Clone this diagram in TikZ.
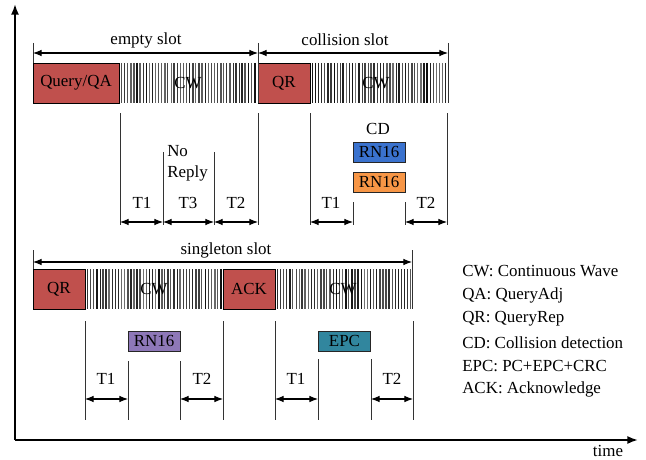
\documentclass[tikz,border=0pt]{standalone}
\usepackage{fontspec}
\setmainfont{Liberation Serif}
\usetikzlibrary{arrows.meta}
\definecolor{qred}{HTML}{C0504D}
\definecolor{qblue}{HTML}{3A72CE}
\definecolor{qorange}{HTML}{F79646}
\definecolor{qpurple}{HTML}{8E78B8}
\definecolor{qteal}{HTML}{31869E}
\newcommand{\cwbars}[4]{%
  \pgfmathsetseed{#4}%
  \pgfmathtruncatemacro{\nbars}{(#2-#1-3)/3.1}%
  \foreach \k in {0,...,\nbars}{%
    \pgfmathsetmacro{\bx}{#1+2.2+\k*3.1+0.5*rnd}%
    \pgfmathsetmacro{\bw}{0.65+0.75*rnd}%
    \pgfmathtruncatemacro{\bg}{55+40*rnd}%
    \draw[line width=\bw pt, draw=black!\bg] (\bx,#3) -- (\bx,#3+40);
  }%
}
\begin{document}
\begin{tikzpicture}[x=0.75pt,y=-0.75pt,
  font=\fontsize{12.7}{15.5}\selectfont,
  cmdbox/.style={draw=black, fill=qred, line width=0.7pt, minimum width=39pt, minimum height=30pt, inner sep=0pt},
  tagbox/.style={draw=black!85, line width=0.7pt, minimum width=39pt, minimum height=15pt, inner sep=0pt},
  lbl/.style={inner sep=0pt},
  vline/.style={draw=black!80, line width=0.75pt},
  dbl/.style={{Latex[length=6.5pt,width=5pt]}-{Latex[length=6.5pt,width=5pt]}, line width=0.8pt},
  axis/.style={line width=1.3pt, -{Latex[length=8pt,width=6pt]}}]
\useasboundingbox (0,0) rectangle (646,460);

% axes
\coordinate (O) at (15,440);
\coordinate (ytop) at (15,4);
\coordinate (xend) at (638,440);
\draw[axis] (O) -- (ytop);
\draw[axis] (O) -- (xend);
\node[lbl] (time) at (608,451) {time};

% CW bars
\cwbars{119}{258}{63}{11}
\cwbars{310}{448}{63}{23}
\cwbars{85}{223}{269}{37}
\cwbars{275}{412}{269}{59}

% command boxes
\node[cmdbox, minimum width=64.5pt] (qqa) at (76,83) {Query/QA};
\node[cmdbox] (qr1) at (284,83) {QR};
\node[cmdbox] (qr2) at (59,289) {QR};
\node[cmdbox] (ack) at (249,289) {ACK};

% CW labels
\node[lbl] (cw1) at (188,83) {CW};
\node[lbl] (cw2) at (376,83) {CW};
\node[lbl] (cw3) at (154,289) {CW};
\node[lbl] (cw4) at (343,289) {CW};

% slot markers
\coordinate (e0t) at (33,43);  \coordinate (e0b) at (33,63);
\coordinate (e1t) at (258,43); \coordinate (e1b) at (258,103);
\coordinate (c1t) at (448,43); \coordinate (c1b) at (448,103);
\draw[vline] (e0t) -- (e0b);
\draw[vline] (e1t) -- (e1b);
\draw[vline] (c1t) -- (c1b);
\coordinate (ea) at (33,53); \coordinate (eb) at (258,53); \coordinate (cb) at (448,53);
\draw[dbl] (ea) -- (eb);
\draw[dbl] (eb) -- (cb);
\node[lbl] (empty) at (146,40) {empty slot};
\node[lbl] (coll) at (345,40) {collision slot};

\coordinate (s0t) at (33,250); \coordinate (s0b) at (33,269);
\coordinate (s1t) at (412,250); \coordinate (s1b) at (412,309);
\draw[vline] (s0t) -- (s0b);
\draw[vline] (s1t) -- (s1b);
\coordinate (sa) at (33,262); \coordinate (sb) at (412,262);
\draw[dbl] (sa) -- (sb);
\node[lbl] (single) at (226,250) {singleton slot};

% empty slot timing
\foreach \n/\x/\t in {ea1/120/113, ea2/163/152, ea3/214/152, ea4/258/113}{
  \coordinate (\n t) at (\x,\t);
  \coordinate (\n b) at (\x,225);
  \coordinate (\n m) at (\x,222);
  \draw[vline] (\n t) -- (\n b);
}
\draw[dbl] (ea1m) -- (ea2m);
\draw[dbl] (ea2m) -- (ea3m);
\draw[dbl] (ea3m) -- (ea4m);
\node[lbl] (et1) at (142,203) {T1};
\node[lbl] (et3) at (188,203) {T3};
\node[lbl] (et2) at (236,203) {T2};
\node[lbl, align=left, anchor=west] (noreply) at (167,163) {No\\Reply};

% collision slot timing
\foreach \n/\x/\t in {ca1/310/113, ca2/353/202, ca3/405/202, ca4/447/113}{
  \coordinate (\n t) at (\x,\t);
  \coordinate (\n b) at (\x,225);
  \coordinate (\n m) at (\x,222);
  \draw[vline] (\n t) -- (\n b);
}
\draw[dbl] (ca1m) -- (ca2m);
\draw[dbl] (ca3m) -- (ca4m);
\node[lbl] (ct1) at (331,203) {T1};
\node[lbl] (ct2) at (426,203) {T2};
\node[lbl] (cd) at (378,129) {CD};
\node[tagbox, fill=qblue] (rnb) at (379,152) {RN16};
\node[tagbox, fill=qorange] (rno) at (379,182) {RN16};

% singleton slot timing
\foreach \n/\x/\t in {sa1/85/321, sa2/128/361, sa3/180/361, sa4/223/321, sa5/275/321, sa6/318/359, sa7/371/359, sa8/413/321}{
  \coordinate (\n t) at (\x,\t);
  \coordinate (\n b) at (\x,420);
  \coordinate (\n m) at (\x,399);
  \draw[vline] (\n t) -- (\n b);
}
\draw[dbl] (sa1m) -- (sa2m);
\draw[dbl] (sa3m) -- (sa4m);
\draw[dbl] (sa5m) -- (sa6m);
\draw[dbl] (sa7m) -- (sa8m);
\node[lbl] (st1) at (106,379) {T1};
\node[lbl] (st2) at (202,379) {T2};
\node[lbl] (st3) at (296,379) {T1};
\node[lbl] (st4) at (392,379) {T2};
\node[tagbox, fill=qpurple] (rnp) at (154,341) {RN16};
\node[tagbox, fill=qteal, minimum width=39.5pt] (epc) at (344.5,341) {EPC};

% legend
\node[lbl, anchor=west] (l1) at (462,271) {CW: Continuous Wave};
\node[lbl, anchor=west] (l2) at (462,295) {QA: QueryAdj};
\node[lbl, anchor=west] (l3) at (462,319) {QR: QueryRep};
\node[lbl, anchor=west] (l4) at (462,343) {CD: Collision detection};
\node[lbl, anchor=west] (l5) at (462,366) {EPC: PC+EPC+CRC};
\node[lbl, anchor=west] (l6) at (462,389) {ACK: Acknowledge};
\end{tikzpicture}
\end{document}
